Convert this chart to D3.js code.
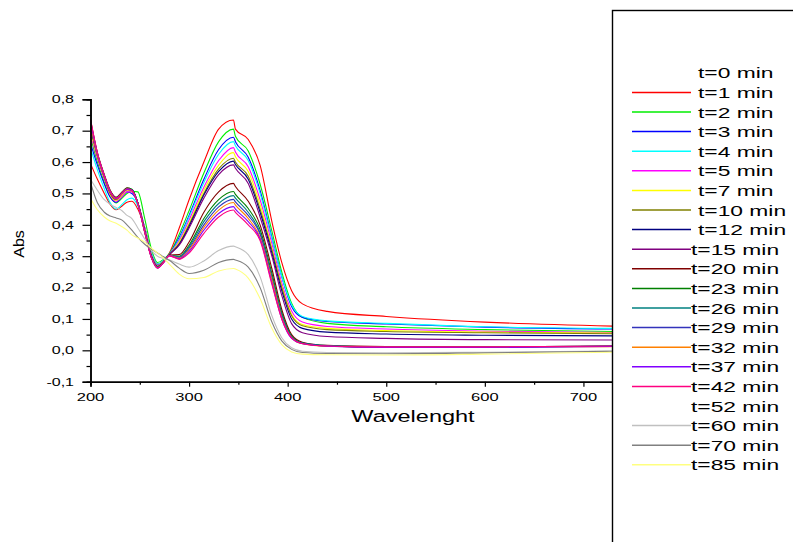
<!DOCTYPE html>
<html lang="en">
<head>
    <meta charset="utf-8">
    <title>Abs vs Wavelenght</title>
    <script src="https://d3js.org/d3.v7.min.js"></script>
    <style type="text/css">
        body{
            margin: 0;
            background: #fff;
        }
        svg{
            display: block;
            font-family: "Liberation Sans", Arial, sans-serif;
        }
    </style>
</head>
<body>
    <svg id="chart" width="793" height="542"></svg>

    <script type="text/javascript">

        // wavelengths (nm) where the curves were read
        const wavelength = [200, 207, 214, 220, 226, 232, 237, 242, 248, 255, 262, 268, 274, 280, 290,
                            300, 315, 330, 345, 347, 360, 372, 384, 394, 404, 415, 440, 500, 600, 730];

        const timeLabels = ["t=0 min", "t=1 min", "t=2 min", "t=3 min", "t=4 min", "t=5 min", "t=7 min",
                            "t=10 min", "t=12 min", "t=15 min", "t=20 min", "t=23 min", "t=26 min", "t=29 min",
                            "t=32 min", "t=37 min", "t=42 min", "t=52 min", "t=60 min", "t=70 min", "t=85 min"];

        const abs_t1  = [.595,.545,.50,.465,.448,.46,.472,.475,.45,.39,.31,.275,.285,.31,.39,.48,.60,.705,.734,.705,.672,.59,.41,.28,.19,.148,.124,.108,.09,.077];
        const abs_t2  = [.68,.60,.535,.49,.47,.485,.50,.507,.505,.42,.32,.28,.29,.308,.37,.445,.565,.665,.705,.682,.635,.53,.38,.25,.15,.105,.086,.075,.066,.06];
        const abs_t3  = [.66,.59,.53,.488,.472,.49,.505,.50,.47,.39,.305,.272,.285,.306,.36,.43,.545,.64,.679,.665,.615,.51,.36,.235,.14,.105,.092,.084,.074,.068];
        const abs_t4  = [.645,.575,.515,.47,.45,.465,.48,.485,.46,.39,.31,.275,.287,.307,.355,.425,.535,.625,.665,.652,.605,.50,.355,.235,.145,.108,.094,.086,.075,.07];
        const abs_t5  = [.69,.61,.545,.495,.475,.49,.505,.505,.47,.39,.305,.27,.284,.305,.35,.415,.52,.605,.646,.632,.585,.48,.34,.215,.125,.09,.076,.068,.061,.057];
        const abs_t7  = [.70,.615,.548,.497,.478,.495,.51,.508,.47,.385,.30,.268,.283,.305,.345,.405,.51,.59,.63,.617,.57,.465,.325,.205,.115,.082,.07,.063,.058,.055];
        const abs_t10 = [.71,.62,.55,.50,.48,.50,.513,.51,.47,.385,.30,.268,.283,.305,.34,.40,.50,.578,.612,.60,.555,.45,.32,.20,.11,.078,.066,.06,.056,.053];
        const abs_t12 = [.71,.62,.552,.502,.482,.50,.515,.51,.47,.38,.298,.266,.282,.305,.338,.395,.495,.57,.603,.592,.545,.44,.31,.19,.10,.07,.058,.052,.048,.046];
        const abs_t15 = [.72,.625,.555,.505,.485,.502,.515,.51,.468,.38,.297,.265,.282,.305,.335,.39,.485,.56,.591,.58,.532,.425,.30,.175,.085,.056,.044,.038,.034,.033];
        const abs_t20 = [.735,.63,.56,.51,.488,.505,.518,.512,.468,.378,.295,.264,.281,.304,.305,.345,.44,.505,.532,.522,.475,.40,.26,.13,.05,.026,.016,.012,.011,.014];
        const abs_t23 = [.73,.628,.558,.508,.487,.503,.517,.513,.47,.38,.296,.265,.281,.303,.30,.335,.42,.48,.506,.497,.452,.385,.245,.12,.045,.023,.014,.01,.01,.013];
        const abs_t26 = [.725,.625,.556,.506,.485,.502,.515,.512,.47,.38,.296,.265,.281,.303,.298,.33,.41,.468,.493,.485,.44,.375,.235,.115,.043,.023,.015,.011,.011,.014];
        const abs_t29 = [.72,.622,.554,.505,.484,.50,.514,.51,.468,.378,.295,.264,.28,.302,.296,.325,.40,.457,.481,.473,.43,.37,.23,.11,.042,.022,.014,.01,.01,.013];
        const abs_t32 = [.72,.62,.552,.503,.482,.498,.512,.508,.466,.376,.294,.263,.28,.302,.294,.32,.392,.447,.471,.463,.42,.36,.225,.105,.04,.021,.013,.01,.01,.012];
        const abs_t37 = [.73,.625,.555,.505,.483,.50,.513,.509,.466,.376,.293,.262,.279,.301,.292,.315,.383,.436,.458,.45,.41,.355,.215,.10,.038,.021,.013,.009,.009,.012];
        const abs_t42 = [.738,.63,.558,.507,.485,.502,.515,.51,.467,.377,.293,.262,.279,.301,.29,.31,.373,.425,.447,.44,.40,.35,.21,.10,.04,.022,.014,.011,.011,.014];
        const abs_t60 = [.545,.51,.48,.465,.455,.445,.43,.42,.39,.355,.318,.30,.293,.288,.275,.265,.285,.318,.332,.33,.305,.235,.11,.04,.008,-.003,-.007,-.008,-.006,-.002];
        const abs_t70 = [.535,.47,.44,.428,.422,.415,.40,.383,.36,.338,.322,.31,.298,.287,.262,.245,.255,.28,.29,.288,.265,.20,.09,.03,.003,-.007,-.01,-.011,-.008,-.003];
        const abs_t85 = [.485,.448,.425,.412,.405,.394,.383,.368,.358,.345,.325,.31,.294,.275,.243,.228,.232,.253,.261,.259,.23,.165,.07,.018,-.005,-.012,-.014,-.015,-.012,-.006];

        const xTicks = [200, 300, 400, 500, 600, 700];
        const yTicks = [-0.1, 0.0, 0.1, 0.2, 0.3, 0.4, 0.5, 0.6, 0.7, 0.8];

        // one colour per legend entry (null = no line shown)
        const colors = [null, "#ff0000", "#00ee00", "#0000ff", "#00ffff", "#ff00ff", "#ffff00",
                        "#808000", "#000080", "#800080", "#800000", "#008000", "#008080", "#3333bb",
                        "#ff8000", "#8000ff", "#ff0080", null, "#c0c0c0", "#808080", "#ffff80"];

        const curves = {
            "t=1 min": abs_t1, "t=2 min": abs_t2, "t=3 min": abs_t3, "t=4 min": abs_t4,
            "t=5 min": abs_t5, "t=7 min": abs_t7, "t=10 min": abs_t10, "t=12 min": abs_t12,
            "t=15 min": abs_t15, "t=20 min": abs_t20, "t=23 min": abs_t23, "t=26 min": abs_t26,
            "t=29 min": abs_t29, "t=32 min": abs_t32, "t=37 min": abs_t37, "t=42 min": abs_t42,
            "t=60 min": abs_t60, "t=70 min": abs_t70, "t=85 min": abs_t85
        };

        const series = timeLabels
            .map((label, i) => ({label: label, color: colors[i], values: curves[label]}))
            .filter(d => d.values);

        const svg = d3.select("#chart");

        const plotL = 90.5, plotR = 613, plotT = 99.3, plotB = 381.7;

        const x = d3.scaleLinear()
            .domain([200, 730])
            .range([plotL, plotR]);

        const y = d3.scaleLinear()
            .domain([-0.1, 0.8])
            .range([plotB, plotT]);

        const fmt = v => d3.format(".1f")(v).replace(".", ",").replace("\u2212", "-");

        svg.append("defs").append("clipPath").attr("id", "plot")
            .append("rect")
            .attr("x", plotL).attr("y", plotT - 5)
            .attr("width", plotR - plotL).attr("height", plotB - plotT + 5);

        const line = d3.line()
            .x((d, i) => x(wavelength[i]))
            .y(d => y(d))
            .curve(d3.curveMonotoneX);

        svg.append("g")
            .attr("clip-path", "url(#plot)")
            .selectAll("path")
            .data(series)
            .enter()
            .append("path")
            .attr("d", d => line(d.values))
            .attr("fill", "none")
            .attr("stroke", d => d.color)
            .attr("stroke-width", 1.1);

        // y axis
        const yAxis = svg.append("g")
            .attr("transform", `translate(${plotL},0)`)
            .call(d3.axisLeft(y).tickValues(yTicks).tickSize(8).tickFormat(""));
        yAxis.append("g")
            .call(d3.axisLeft(y).tickValues(d3.range(-0.05, 0.8, 0.1)).tickSize(4).tickFormat(""));
        yAxis.selectAll("path.domain").attr("stroke-width", 1.5);
        yAxis.selectAll("line").attr("stroke-width", 1.2);

        svg.selectAll("text.ylab")
            .data(yTicks)
            .enter()
            .append("text")
            .attr("class", "ylab")
            .attr("text-anchor", "end")
            .attr("font-size", 10)
            .attr("transform", d => `translate(74,${y(d) + 3.8}) scale(1.6,1)`)
            .text(fmt);

        // x axis
        const xAxis = svg.append("g")
            .attr("transform", `translate(0,${plotB})`)
            .call(d3.axisBottom(x).tickValues(xTicks).tickSize(5).tickFormat(""));
        xAxis.append("g")
            .call(d3.axisBottom(x).tickValues([250, 350, 450, 550, 650]).tickSize(3).tickFormat(""));
        xAxis.selectAll("path.domain").attr("stroke-width", 1.5);
        xAxis.selectAll("line").attr("stroke-width", 1.2);

        svg.selectAll("text.xlab")
            .data(xTicks)
            .enter()
            .append("text")
            .attr("class", "xlab")
            .attr("text-anchor", "middle")
            .attr("font-size", 10)
            .attr("transform", d => `translate(${x(d)},401) scale(1.65,1)`)
            .text(d => d);

        // axis titles
        svg.append("text")
            .attr("text-anchor", "middle")
            .attr("font-size", 16)
            .attr("transform", "translate(413,422) scale(1.47,1)")
            .text("Wavelenght");

        svg.append("text")
            .attr("text-anchor", "middle")
            .attr("font-size", 16)
            .attr("transform", "translate(24,244) rotate(-90) scale(1,0.9)")
            .text("Abs");

        // legend box
        svg.append("rect")
            .attr("x", 612.5).attr("y", 10.5)
            .attr("width", 300).attr("height", 600)
            .attr("fill", "#fff")
            .attr("stroke", "#000")
            .attr("stroke-width", 1.4);

        const legend = svg.selectAll("g.leg")
            .data(timeLabels)
            .enter()
            .append("g")
            .attr("class", "leg")
            .attr("transform", (d, i) => `translate(0,${78.3 + i * 19.6})`);

        legend.filter((d, i) => colors[i])
            .append("line")
            .attr("x1", 632).attr("x2", 691)
            .attr("y1", -5.5).attr("y2", -5.5)
            .attr("stroke", d => colors[timeLabels.indexOf(d)])
            .attr("stroke-width", 1.5);

        legend.append("text")
            .attr("font-size", 14)
            .attr("transform", (d, i) => `translate(${i < 9 ? 698 : 691},0) scale(1.63,1)`)
            .text(d => d);

    </script>
</body>
</html>
